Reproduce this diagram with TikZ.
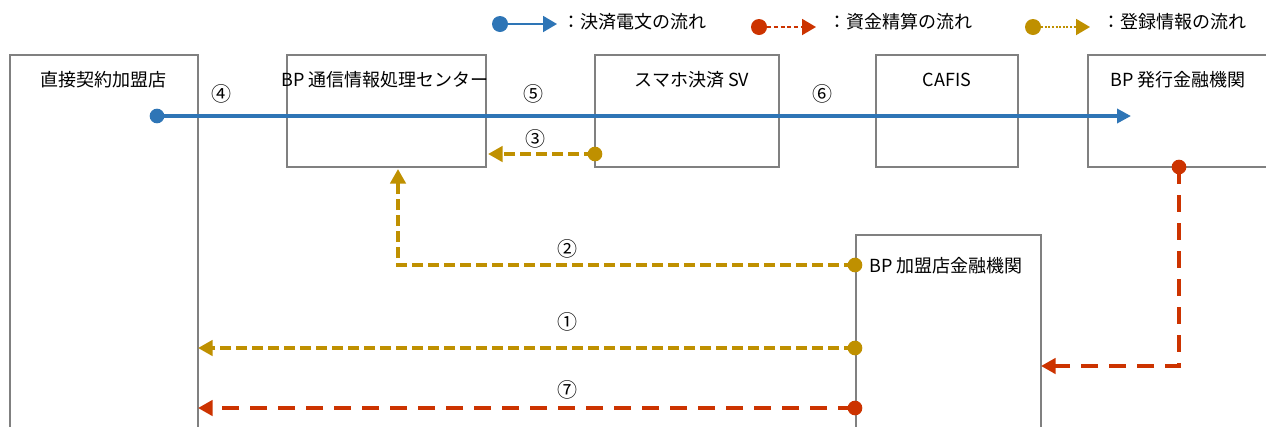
\documentclass[tikz,border=0pt]{standalone}
\usepackage{fontspec}
\setmainfont{Noto Sans CJK JP}
\usetikzlibrary{arrows.meta}
\definecolor{cblue}{HTML}{2E75B6}
\definecolor{cred}{HTML}{CC3300}
\definecolor{cgold}{HTML}{BF9000}
\definecolor{cgray}{HTML}{808080}
\tikzset{
  box/.style={draw=cgray, line width=2.2pt, rectangle, inner sep=0pt, outer sep=0pt, anchor=north west},
  lbl/.style={font=\fontsize{13.5pt}{15pt}\selectfont, inner sep=0pt, text=black},
  num/.style={font=\fontsize{15pt}{17pt}\selectfont, inner sep=0pt, text=black},
  bluef/.style={draw=cblue, line width=3pt, -{Triangle[length=10.5pt, width=10.5pt]}},
  goldf/.style={draw=cgold, line width=3pt, dash pattern=on 8.25pt off 3.75pt, -{Triangle[length=11pt, width=11.5pt]}},
  redf/.style={draw=cred, line width=3pt, dash pattern=on 12.75pt off 8.25pt, -{Triangle[length=11pt, width=11.5pt]}},
  dotb/.style={circle, fill=cblue, inner sep=0pt, minimum size=11pt},
  dotr/.style={circle, fill=cred, inner sep=0pt, minimum size=11pt},
  dotg/.style={circle, fill=cgold, inner sep=0pt, minimum size=11pt},
}
\begin{document}
\begin{tikzpicture}[x=0.75pt, y=-0.75pt]
\useasboundingbox (0,0) rectangle (1266,426);
\begin{scope}
\clip (0,0) rectangle (1266,426);
% boxes
\node[box, minimum width=141pt, minimum height=300pt] (A) at (10,55) {};
\node[box, minimum width=149.25pt, minimum height=84pt] (B) at (287,55) {};
\node[box, minimum width=138pt, minimum height=84pt] (C) at (595,55) {};
\node[box, minimum width=106.5pt, minimum height=84pt] (D) at (876,55) {};
\node[box, minimum width=151.5pt, minimum height=84pt] (E) at (1088,55) {};
\node[box, minimum width=138.75pt, minimum height=160pt] (F) at (856,235) {};
\end{scope}
% box labels
\node[lbl] (tA) at (103,80) {直接契約加盟店};
\node[lbl] (tB) at (385,80) {BP 通信情報処理センター};
\node[lbl] (tC) at (692,80) {スマホ決済 SV};
\node[lbl] (tD) at (947,80) {CAFIS};
\node[lbl] (tE) at (1178,80) {BP 発行金融機関};
\node[lbl, anchor=west] (tF) at (869,266) {BP 加盟店金融機関};
% numbers
\node[num] (n4) at (221,94) {④};
\node[num] (n5) at (533,94) {⑤};
\node[num] (n6) at (822,94) {⑥};
\node[num] (n3) at (535,139) {③};
\node[num] (n2) at (567,249) {②};
\node[num] (n1) at (567,322) {①};
\node[num] (n7) at (567,390) {⑦};
% connector end points
\coordinate (bS) at (157,116);
\coordinate (bE) at (1131,116);
\coordinate (g3S) at (595,154);
\coordinate (g3E) at (488,154);
\coordinate (g2S) at (855,265);
\coordinate (g2M) at (398,265);
\coordinate (g2E) at (398,169);
\coordinate (g1S) at (855,348);
\coordinate (g1E) at (198,348);
\coordinate (r7S) at (855,408);
\coordinate (r7E) at (198,408);
\coordinate (rS) at (1179,167);
\coordinate (rM) at (1179,366);
\coordinate (rE) at (1041,366);
% connectors
\draw[bluef] (bS) -- (bE);
\draw[goldf] (g3S) -- (g3E);
\draw[goldf] (g2S) -- (g2M) -- (g2E);
\draw[goldf] (g1S) -- (g1E);
\draw[redf] (r7S) -- (r7E);
\draw[redf] (rS) -- (rM) -- (rE);
% dots
\node[dotb] (d1) at (bS) {};
\node[dotg] (d3) at (g3S) {};
\node[dotg] (d2) at (g2S) {};
\node[dotg] (d1g) at (g1S) {};
\node[dotr] (d7) at (r7S) {};
\node[dotr] (dr) at (rS) {};
% legend
\node[dotb, minimum size=12pt] (lb1) at (500,24) {};
\coordinate (lb2) at (557,24);
\draw[cblue, line width=1.4pt, -{Triangle[length=10.5pt, width=12pt]}] (lb1) -- (lb2);
\node[lbl, anchor=west] (lbt) at (562,22) {：決済電文の流れ};
\node[dotr, minimum size=12pt] (lr1) at (759,27) {};
\coordinate (lr2) at (816,27);
\draw[cred, line width=1.4pt, dash pattern=on 3pt off 2pt, -{Triangle[length=10.5pt, width=12pt]}] (lr1) -- (lr2);
\node[lbl, anchor=west] (lrt) at (828,22) {：資金精算の流れ};
\node[dotg, minimum size=12pt] (lg1) at (1033,27) {};
\coordinate (lg2) at (1090,27);
\draw[cgold, line width=1.4pt, dash pattern=on 1.5pt off 1.2pt, -{Triangle[length=10.5pt, width=12pt]}] (lg1) -- (lg2);
\node[lbl, anchor=west] (lgt) at (1102,22) {：登録情報の流れ};
\end{tikzpicture}
\end{document}
